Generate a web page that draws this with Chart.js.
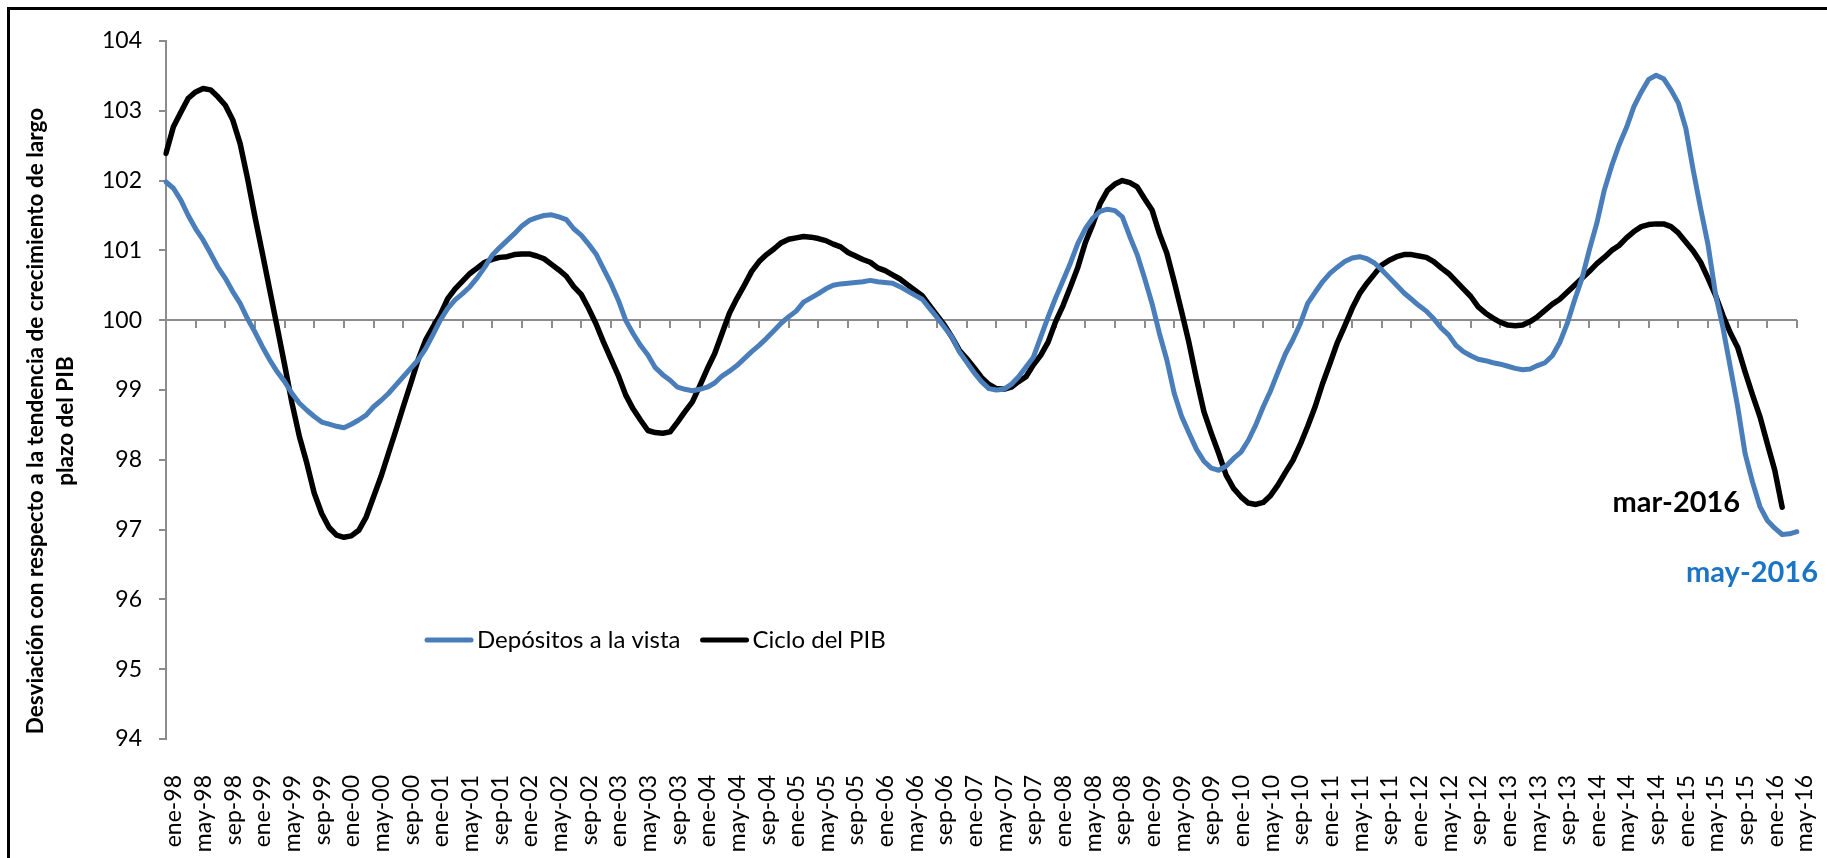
<!DOCTYPE html>
<html>
<head>
<meta charset="utf-8">
<script src="https://cdn.jsdelivr.net/npm/chart.js@4.4.1/dist/chart.umd.min.js"></script>
<style>
  html, body { margin: 0; padding: 0; background: #fff; }
  canvas { display: block; }
</style>
</head>
<body>
<canvas id="chart" width="1827" height="858"></canvas>
<script>
// monthly categories ene-98 .. may-16
const monthNames = ['ene', 'feb', 'mar', 'abr', 'may', 'jun', 'jul', 'ago', 'sep', 'oct', 'nov', 'dic'];
const months = [];
for (let y = 1998; y <= 2016; y++) {
  for (let m = 0; m < 12; m++) {
    if (y === 2016 && m > 4) break;
    months.push(monthNames[m] + '-' + String(y).slice(2));
  }
}

const depositos = [
  101.98, 101.89, 101.72, 101.50, 101.31, 101.15, 100.96, 100.76, 100.60, 100.41, 100.24, 100.02,
  99.83, 99.62, 99.43, 99.26, 99.12, 98.95, 98.81, 98.71, 98.62, 98.54, 98.51, 98.48,
  98.46, 98.51, 98.57, 98.64, 98.76, 98.85, 98.95, 99.07, 99.19, 99.31, 99.43, 99.59,
  99.79, 100.00, 100.17, 100.29, 100.38, 100.48, 100.61, 100.76, 100.93, 101.04, 101.14, 101.24,
  101.35, 101.43, 101.47, 101.50, 101.51, 101.48, 101.44, 101.31, 101.22, 101.09, 100.95, 100.74,
  100.53, 100.29, 100.00, 99.81, 99.64, 99.50, 99.32, 99.22, 99.14, 99.04, 99.01, 98.99,
  99.01, 99.04, 99.10, 99.20, 99.27, 99.35, 99.45, 99.55, 99.64, 99.74, 99.85, 99.96,
  100.05, 100.13, 100.26, 100.32, 100.38, 100.45, 100.50, 100.52, 100.53, 100.54, 100.55, 100.57,
  100.55, 100.54, 100.53, 100.48, 100.42, 100.36, 100.30, 100.17, 100.04, 99.90, 99.76, 99.55,
  99.40, 99.25, 99.12, 99.02, 99.00, 99.01, 99.08, 99.19, 99.33, 99.47, 99.76, 100.05,
  100.32, 100.57, 100.82, 101.10, 101.31, 101.46, 101.56, 101.59, 101.57, 101.48, 101.20, 100.94,
  100.60, 100.24, 99.81, 99.43, 98.95, 98.62, 98.38, 98.15, 97.98, 97.88, 97.85, 97.91,
  98.02, 98.11, 98.28, 98.50, 98.76, 98.99, 99.26, 99.52, 99.72, 99.95, 100.24, 100.40,
  100.55, 100.67, 100.76, 100.84, 100.89, 100.91, 100.88, 100.82, 100.72, 100.61, 100.50, 100.39,
  100.30, 100.21, 100.13, 100.02, 99.89, 99.79, 99.64, 99.55, 99.49, 99.44, 99.42, 99.39,
  99.37, 99.34, 99.31, 99.29, 99.30, 99.35, 99.39, 99.49, 99.68, 99.95, 100.29, 100.60,
  101.01, 101.39, 101.86, 102.21, 102.51, 102.76, 103.06, 103.27, 103.45, 103.51, 103.46, 103.30,
  103.11, 102.75, 102.15, 101.60, 101.08, 100.38, 99.90, 99.33, 98.76, 98.09, 97.68, 97.33,
  97.13, 97.02, 96.93, 96.94, 96.97
];

const cicloPib = [
  102.39, 102.77, 102.98, 103.18, 103.27, 103.32, 103.30, 103.20, 103.08, 102.87, 102.53, 102.03,
  101.48, 100.96, 100.43, 99.90, 99.36, 98.81, 98.33, 97.95, 97.52, 97.23, 97.03, 96.92,
  96.89, 96.91, 96.99, 97.18, 97.47, 97.76, 98.09, 98.42, 98.76, 99.09, 99.43, 99.71,
  99.90, 100.08, 100.31, 100.45, 100.56, 100.67, 100.75, 100.83, 100.87, 100.90, 100.91, 100.94,
  100.95, 100.95, 100.92, 100.88, 100.80, 100.72, 100.63, 100.48, 100.37, 100.17, 99.95, 99.69,
  99.45, 99.21, 98.93, 98.73, 98.57, 98.42, 98.39, 98.38, 98.40, 98.54, 98.69, 98.83,
  99.06, 99.30, 99.52, 99.81, 100.10, 100.31, 100.50, 100.70, 100.84, 100.94, 101.02, 101.11,
  101.16, 101.18, 101.20, 101.19, 101.17, 101.14, 101.09, 101.05, 100.97, 100.92, 100.87, 100.83,
  100.75, 100.71, 100.65, 100.59, 100.51, 100.43, 100.35, 100.21, 100.07, 99.93, 99.76, 99.57,
  99.45, 99.32, 99.18, 99.08, 99.02, 99.01, 99.04, 99.12, 99.19, 99.36, 99.50, 99.69,
  99.98, 100.21, 100.48, 100.76, 101.11, 101.37, 101.67, 101.86, 101.95, 102.00, 101.97, 101.91,
  101.74, 101.58, 101.24, 100.96, 100.55, 100.12, 99.67, 99.16, 98.69, 98.38, 98.09, 97.78,
  97.59, 97.47, 97.38, 97.36, 97.39, 97.49, 97.64, 97.82, 97.99, 98.22, 98.48, 98.76,
  99.09, 99.38, 99.68, 99.92, 100.17, 100.38, 100.53, 100.66, 100.79, 100.86, 100.91, 100.94,
  100.94, 100.92, 100.90, 100.84, 100.75, 100.67, 100.56, 100.45, 100.34, 100.19, 100.10, 100.03,
  99.97, 99.93, 99.92, 99.93, 99.98, 100.05, 100.14, 100.23, 100.30, 100.40, 100.50, 100.60,
  100.70, 100.81, 100.90, 101.00, 101.07, 101.18, 101.27, 101.34, 101.37, 101.38, 101.38, 101.34,
  101.25, 101.12, 100.99, 100.83, 100.60, 100.36, 100.07, 99.82, 99.61, 99.26, 98.93, 98.62,
  98.23, 97.85, 97.32
];

const endLabels = ['may-2016', 'mar-2016'];

const GREY = '#8c8c8c';
const BLUE = '#4a7ebb';

// frame, crossing axis at 100, legend, title and end labels
const decor = {
  id: 'decor',
  beforeDraw(chart) {
    const c = chart.ctx;
    c.save();
    c.fillStyle = '#fff';
    c.fillRect(0, 0, chart.width, chart.height);
    c.strokeStyle = '#000';
    c.lineWidth = 3;
    c.strokeRect(8.5, 8.5, chart.width + 20, chart.height + 20);
    c.restore();
  },
  beforeDatasetsDraw(chart) {
    const c = chart.ctx, x = chart.scales.x, y = chart.scales.y;
    const y0 = Math.round(y.getPixelForValue(100));
    c.save();
    c.strokeStyle = GREY;
    c.lineWidth = 2;
    c.beginPath();
    c.moveTo(chart.chartArea.left, y0);
    c.lineTo(chart.chartArea.right, y0);
    for (let i = 0; i < months.length; i += 4) {
      const px = Math.round(x.getPixelForValue(i));
      c.moveTo(px, y0);
      c.lineTo(px, y0 + 8);
    }
    c.stroke();
    c.restore();
  },
  afterDraw(chart) {
    const c = chart.ctx;
    c.save();
    // y-axis title
    c.translate(36, 421);
    c.rotate(-Math.PI / 2);
    c.fillStyle = '#000';
    c.font = 'bold 22.5px Lato';
    c.textAlign = 'center';
    c.textBaseline = 'middle';
    c.fillText('Desviación con respecto a la tendencia de crecimiento de largo', 0, 0);
    c.fillText('plazo del PIB', 0, 30);
    c.restore();

    // legend
    c.save();
    c.font = '24px Lato';
    c.textBaseline = 'middle';
    c.lineCap = 'round';
    let lx = 427;
    const ly = 640;
    chart.data.datasets.forEach(ds => {
      c.strokeStyle = ds.borderColor;
      c.lineWidth = 5;
      c.beginPath();
      c.moveTo(lx, ly);
      c.lineTo(lx + 44, ly);
      c.stroke();
      c.fillStyle = '#000';
      c.fillText(ds.label, lx + 50, ly);
      lx += 50 + c.measureText(ds.label).width + 22;
    });
    c.restore();

    // end-of-series labels
    c.save();
    c.font = 'bold 29px Lato';
    c.textBaseline = 'middle';
    c.textAlign = 'right';
    const mb = chart.getDatasetMeta(0).data, mk = chart.getDatasetMeta(1).data;
    const pb = mb[mb.length - 1], pk = mk[mk.length - 1];
    c.fillStyle = '#000';
    c.fillText(endLabels[1], pk.x - 42, pk.y - 5);
    c.fillStyle = '#1c74c4';
    c.fillText(endLabels[0], pb.x + 21, pb.y + 41);
    c.restore();
  }
};

new Chart(document.getElementById('chart'), {
  type: 'line',
  data: {
    labels: months,
    datasets: [
      {
        label: 'Depósitos a la vista',
        data: depositos,
        borderColor: BLUE,
        borderWidth: 5,
        pointRadius: 0,
        tension: 0,
        borderCapStyle: 'round',
        borderJoinStyle: 'round'
      },
      {
        label: 'Ciclo del PIB',
        data: cicloPib,
        borderColor: '#000',
        borderWidth: 5.5,
        pointRadius: 0,
        tension: 0,
        borderCapStyle: 'round',
        borderJoinStyle: 'round'
      }
    ]
  },
  options: {
    responsive: false,
    animation: false,
    layout: { padding: { left: 0, right: 30, top: 41, bottom: 0 } },
    plugins: { legend: { display: false }, tooltip: { enabled: false } },
    scales: {
      x: {
        offset: false,
        grid: { display: false },
        border: { display: false },
        afterFit(scale) {
          scale.height = 119;
          scale.paddingLeft = 0;
          scale.paddingRight = 0;
        },
        ticks: {
          autoSkip: false,
          minRotation: 90,
          maxRotation: 90,
          padding: 28,
          labelOffset: 8,
          color: '#000',
          font: { family: 'Lato', size: 23 },
          callback(value, index) {
            return index % 4 === 0 ? months[index] : null;
          }
        }
      },
      y: {
        min: 94,
        max: 104,
        afterFit(scale) { scale.width = 166; },
        grid: { drawOnChartArea: false, drawTicks: true, tickLength: 7, color: GREY, lineWidth: 2 },
        border: { display: true, color: GREY, width: 2 },
        ticks: {
          stepSize: 1,
          padding: 17,
          color: '#000',
          font: { family: 'Lato', size: 23 }
        }
      }
    }
  },
  plugins: [decor]
});
</script>
</body>
</html>
